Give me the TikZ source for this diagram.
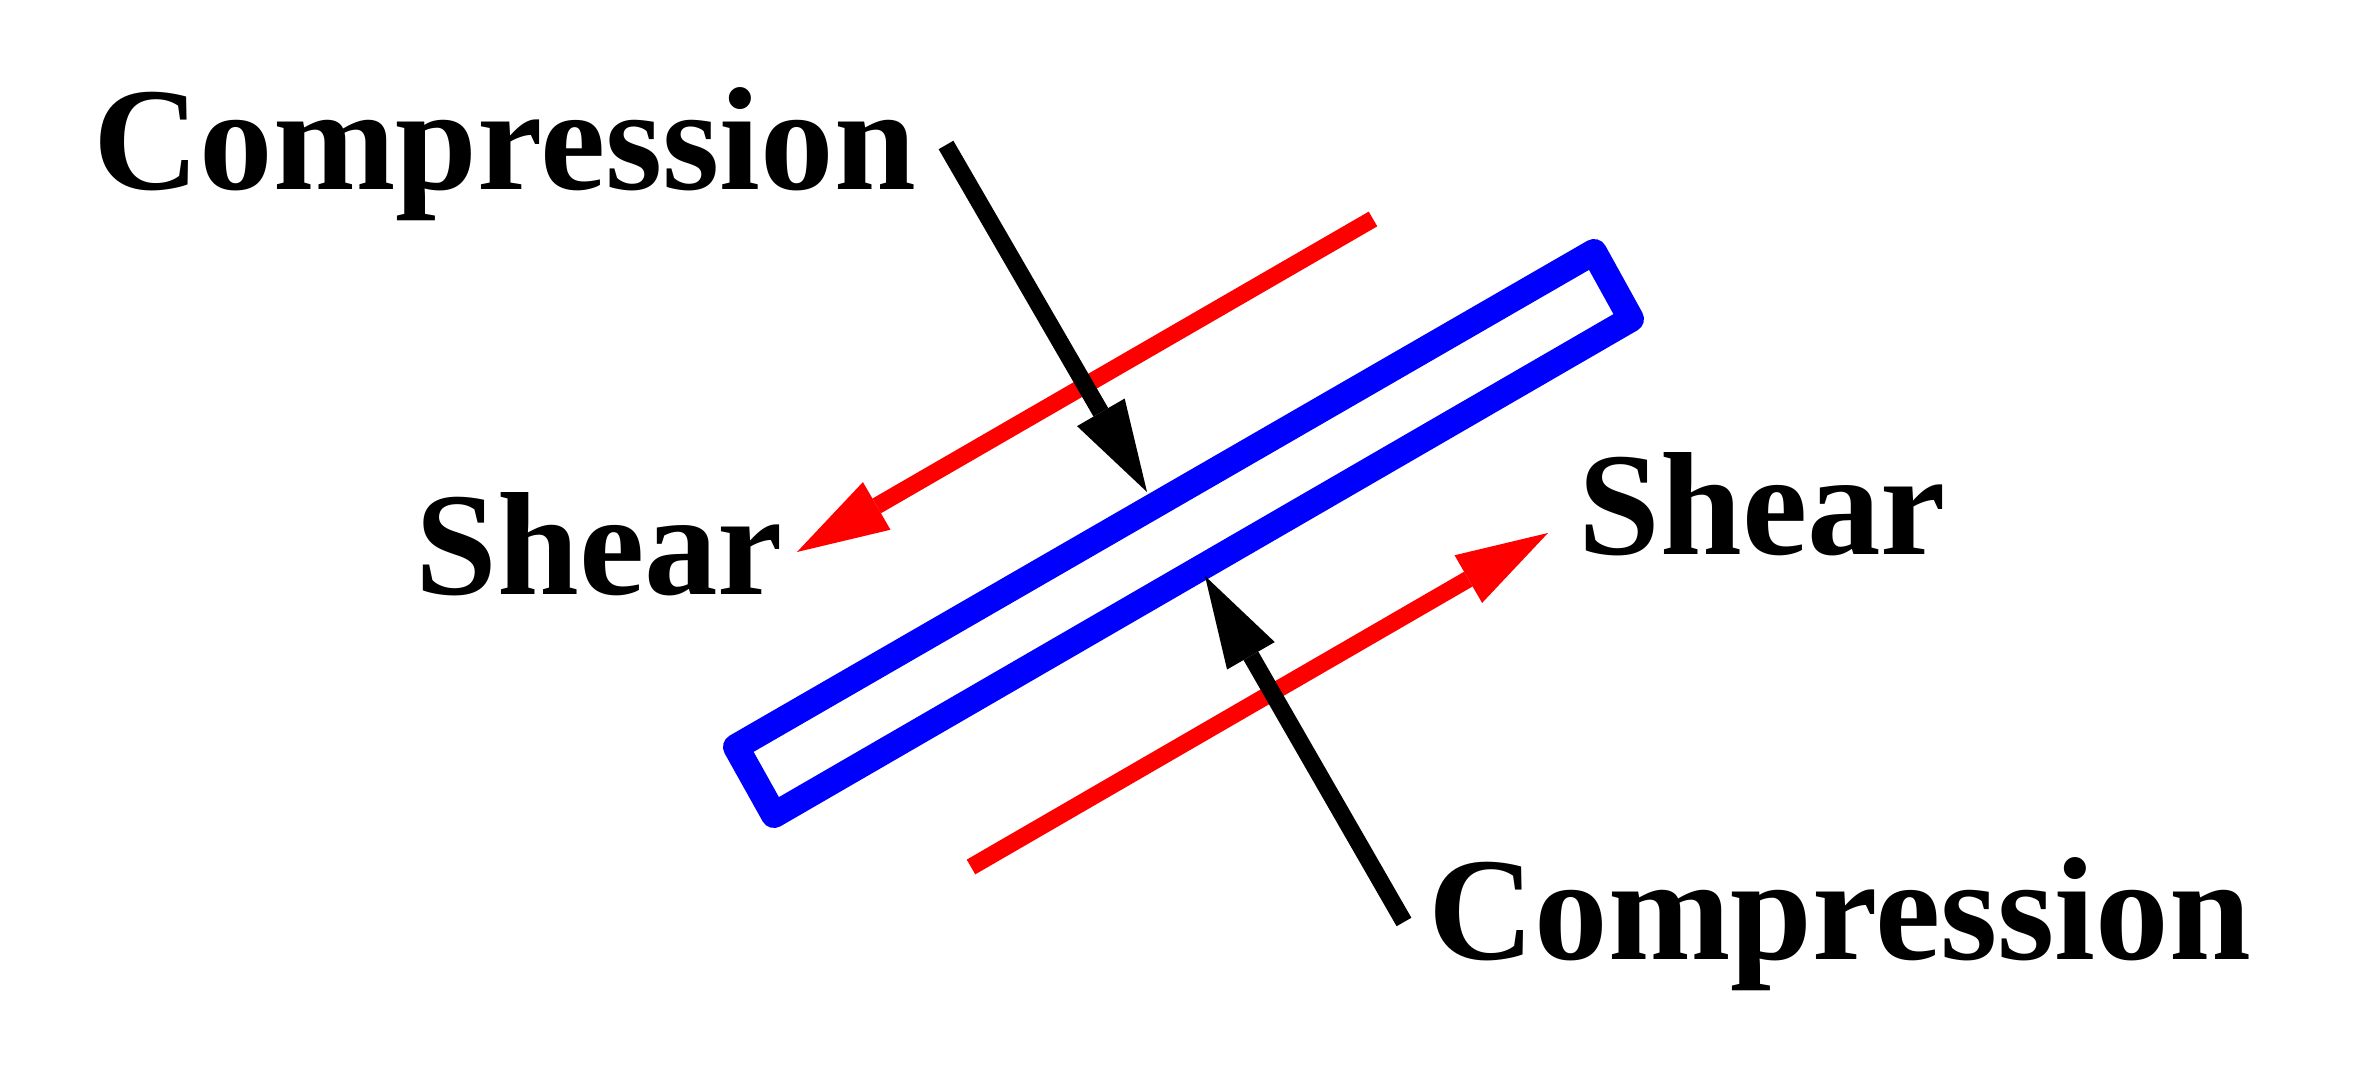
\documentclass[tikz,border=0pt]{standalone}
\usepackage{fontspec}
\setmainfont{Liberation Serif}
\usetikzlibrary{arrows.meta}

\begin{document}
\begin{tikzpicture}[x=0.01cm, y=-0.01cm]
			\tikzstyle{Label}	= [inner sep=0pt, anchor=base west, font=\fontsize{41.8}{50}\selectfont\bfseries]
			\tikzstyle{Plate}	= [blue, line width=0.26cm, line join=round]
			\tikzstyle{Tip}		= [-{Triangle[length=0.92cm, width=0.55cm, line width=0pt]}]
			\tikzstyle{SH}		= [red, line width=0.17cm, Tip]
			\tikzstyle{CP}		= [black, line width=0.17cm, Tip]

			\useasboundingbox (0,0) rectangle (2353,1086);

			\coordinate (p1) at (736,747);
			\coordinate (p2) at (1594,252);
			\coordinate (p3) at (1631,319);
			\coordinate (p4) at (774,815);
			\coordinate (s1) at (1373,219);
			\coordinate (s2) at (797,552);
			\coordinate (s3) at (971,867);
			\coordinate (s4) at (1548,533);
			\coordinate (c1) at (946,145);
			\coordinate (c2) at (1147,492);
			\coordinate (c3) at (1404,922);
			\coordinate (c4) at (1205,576);

			\node (t1) at (93,190) [Label] {Compression};
			\node (t2) at (1428,960) [Label] {Compression};
			\node (t3) at (415,595) [Label] {Shear};
			\node (t4) at (1578,555) [Label] {Shear};

			\draw (p1) -- (p2) -- (p3) -- (p4) -- cycle [Plate];
			\draw (s1) to (s2) [SH];
			\draw (s3) to (s4) [SH];
			\draw (c1) to (c2) [CP];
			\draw (c3) to (c4) [CP];
\end{tikzpicture}
\end{document}
